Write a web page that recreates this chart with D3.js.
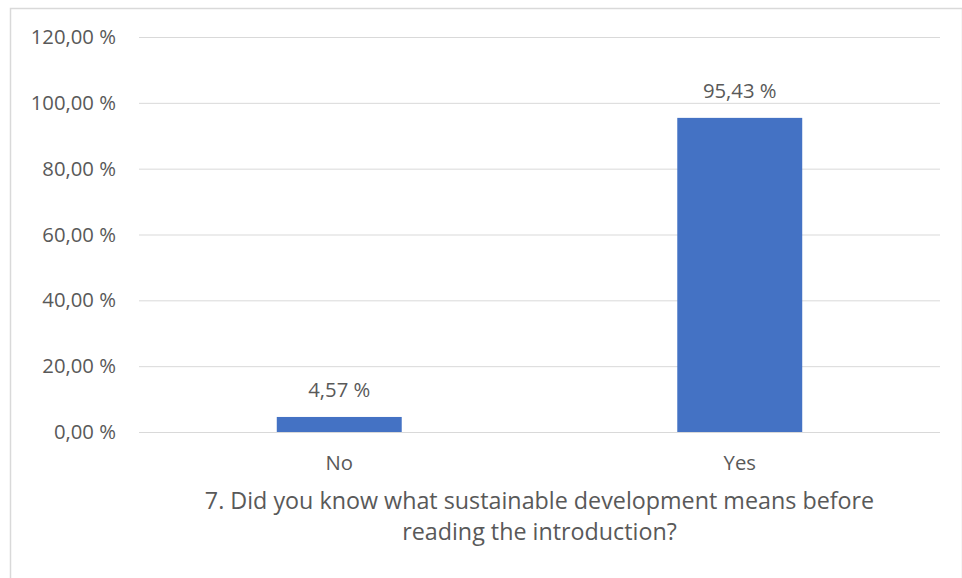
<!DOCTYPE html>
<html>
<head>
<meta charset="utf-8">
<script src="https://cdn.jsdelivr.net/npm/d3@7"></script>
<style>
  html, body { margin: 0; padding: 0; background: #fff; }
  svg { display: block; }
  text { font-family: "Open Sans", sans-serif; fill: #595959; }
</style>
</head>
<body>
<svg id="chart" width="962" height="578"></svg>
<script>
// Survey answers and their shares (percent)
const categories = ["No", "Yes"];
const values = [4.57, 95.43];
const yTicks = [0, 20, 40, 60, 80, 100, 120];
const titleLines = [
  "7. Did you know what sustainable development means before",
  "reading the introduction?"
];

const W = 962, H = 578;
const FONT = "'Open Sans', sans-serif";
const LABEL_SIZE = 20.3;
const TITLE_SIZE = 23.3;
const margin = { top: 37, right: 22, bottom: 146, left: 139 };
const svg = d3.select("#chart");

// Chart frame
svg.append("rect")
  .attr("x", 10.5).attr("y", 8.5)
  .attr("width", W - 10).attr("height", H)
  .attr("fill", "none").attr("stroke", "#d9d9d9").attr("stroke-width", 1.5);

const x = d3.scaleBand()
  .domain(categories)
  .range([margin.left, W - margin.right])
  .paddingInner(0.688)
  .paddingOuter(0.344);

const y = d3.scaleLinear()
  .domain([0, 120])
  .range([H - margin.bottom, margin.top]);

const fmt = v => d3.format(".2f")(v).replace(".", ",") + " %";

// Gridlines and y tick labels
const yAxis = d3.axisLeft(y)
  .tickValues(yTicks)
  .tickSize(-(W - margin.left - margin.right))
  .tickPadding(23)
  .tickFormat(fmt);

const gy = svg.append("g")
  .attr("transform", `translate(${margin.left},0)`)
  .call(yAxis);
gy.select(".domain").remove();
gy.selectAll(".tick line").attr("stroke", "#d9d9d9").attr("stroke-width", 1);
gy.selectAll(".tick text")
  .attr("font-size", LABEL_SIZE)
  .attr("fill", "#595959")
  .style("font-family", FONT);

// Bars
svg.append("g").selectAll("rect")
  .data(categories)
  .join("rect")
  .attr("x", d => x(d))
  .attr("width", x.bandwidth())
  .attr("y", (d, i) => y(values[i]))
  .attr("height", (d, i) => y(0) - y(values[i]))
  .attr("fill", "#4472c4");

// Value labels
svg.append("g").selectAll("text")
  .data(categories)
  .join("text")
  .attr("x", d => x(d) + x.bandwidth() / 2)
  .attr("y", (d, i) => y(values[i]) - 20)
  .attr("text-anchor", "middle")
  .attr("font-size", LABEL_SIZE)
  .text((d, i) => fmt(values[i]));

// Category axis labels
const xAxis = d3.axisBottom(x).tickSize(0).tickPadding(24);
const gx = svg.append("g")
  .attr("transform", `translate(0,${y(0)})`)
  .call(xAxis);
gx.select(".domain").remove();
gx.selectAll(".tick text")
  .attr("font-size", LABEL_SIZE)
  .attr("fill", "#595959")
  .style("font-family", FONT);

// Axis title
const cx = (margin.left + W - margin.right) / 2;
svg.append("g").selectAll("text")
  .data(titleLines)
  .join("text")
  .attr("x", cx)
  .attr("y", (d, i) => 509 + i * 31)
  .attr("text-anchor", "middle")
  .attr("font-size", TITLE_SIZE)
  .text(d => d);
</script>
</body>
</html>
